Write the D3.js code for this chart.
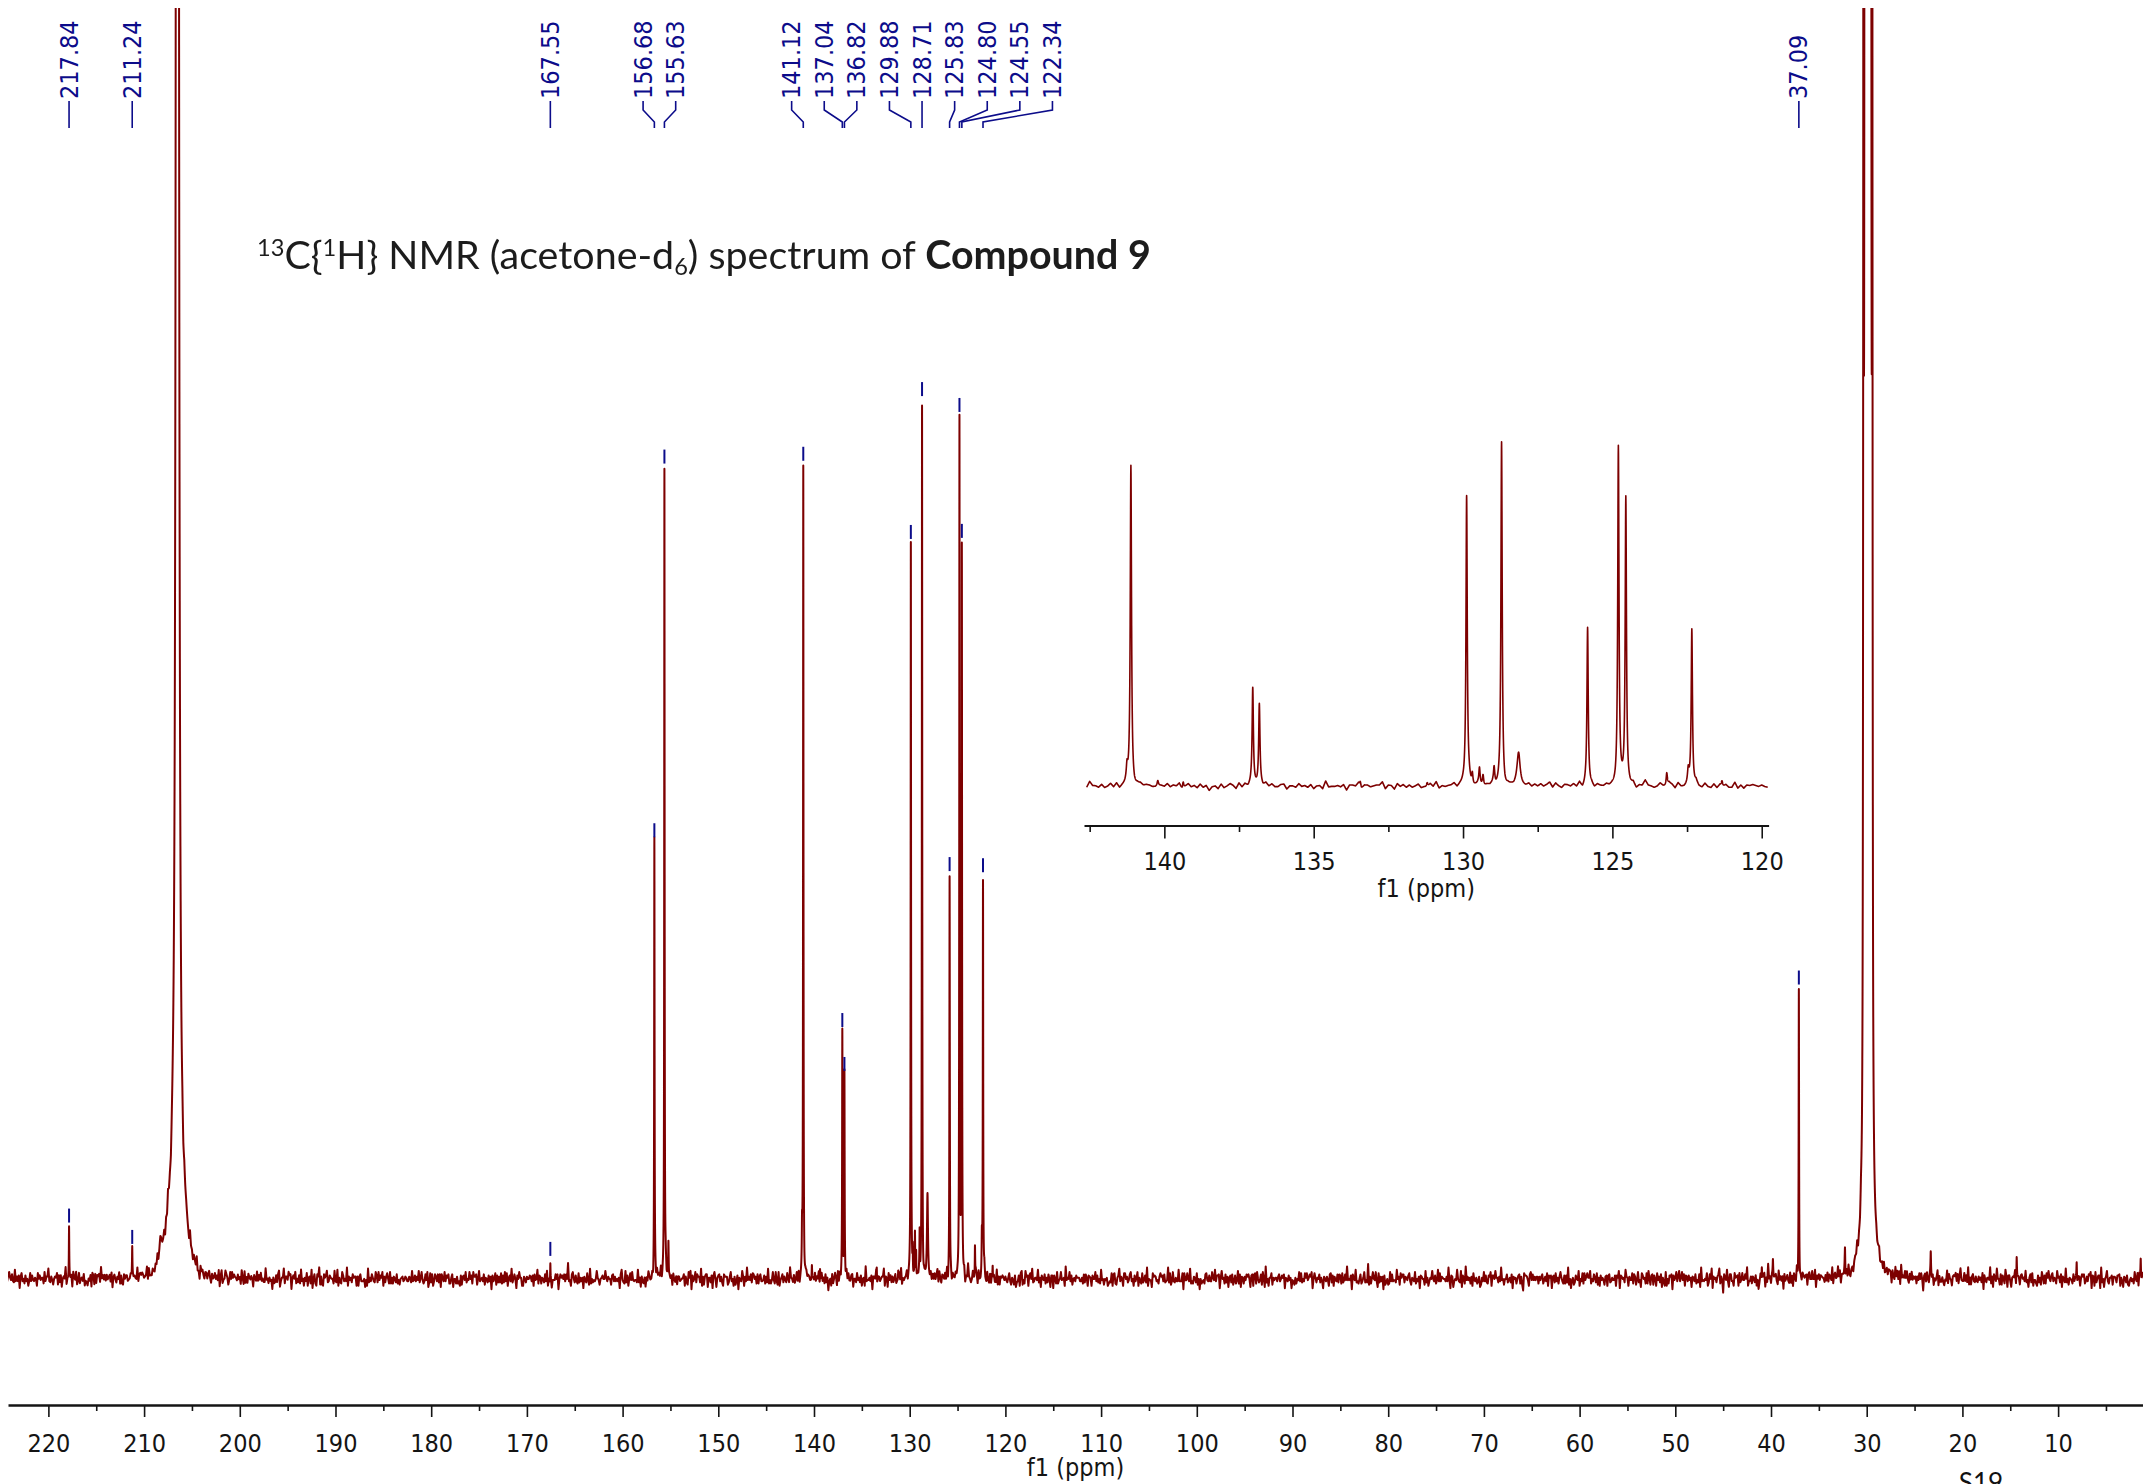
<!DOCTYPE html>
<html>
<head>
<meta charset="utf-8">
<script src="https://cdn.jsdelivr.net/npm/d3@7"></script>
<style>
  html, body { margin: 0; padding: 0; background: #ffffff; }
  svg { display: block; }
</style>
</head>
<body>
<svg id="chart" width="2143" height="1484"></svg>
<script>
// ---- Labelled 13C{1H} signals: shift (ppm) and peak height (% of full vertical scale)
const peakPpm    = [217.84, 211.24, 167.55, 156.68, 155.63, 141.12, 137.04, 136.82, 129.88, 128.71, 125.83, 124.80, 124.55, 122.34, 37.09];
const peakHeight = [4.1,    2.3,    1.5,    34.4,   63.8,   63.9,   19.3,   15.8,   57.8,   69.0,   31.7,   67.3,   57.3,   31.5,   22.8];
const peakHwhm   = 0.025;   // half width at half height, ppm

// ---- Small unlabelled signals
const minorPpm    = [208.30, 155.21, 141.25, 140.22, 139.37, 133.44, 131.20, 129.69, 129.45, 129.33, 128.96, 128.14, 123.18, 122.46, 121.33, 40.96, 39.80, 32.27, 23.31, 14.33, 8.06, 1.37];
const minorHeight = [1.4,    3.1,    3.0,    1.0,    1.3,    0.9,    0.9,    2.5,    3.3,    2.1,    3.2,    6.4,    2.6,    2.8,    1.0,    1.0,   1.0,   1.8,   1.6,   1.9,   1.4,  1.5];
const minorHwhm   = [0.25,   0.03,   0.03,   0.025,  0.025,  0.025,  0.025,  0.025,  0.025,  0.025,  0.025,  0.06,   0.025,  0.03,   0.025,  0.03,  0.03,  0.03,  0.03,  0.03,  0.03, 0.03];

// ---- Solvent (acetone-d6): carbonyl line with its broad foot, and the CD3 septet
const solventCoPpm = 206.52, solventCoHeight = 4800, solventCoHwhm = 0.025;
const solventFootPpm = 206.6, solventFootHeight = 5, solventFootSigma = 0.85;
const septetPpm    = [30.34, 30.19, 30.03, 29.88, 29.73, 29.57, 29.42];
const septetHeight = [110, 330, 660, 770, 660, 330, 110];
const septetHwhm   = 0.03;

// ---- Baseline noise samples (one per 0.1 ppm, in steps of 0.09 % of scale)
const noiseA = [2,-3,1,4,-1,-5,3,0,-2,6,-4,1,-1,3,-6,2,5,-2,0,-3,4,-1,2,-7,1,3,-2,5,-4,0,2,-1,-3,7,-2,1,-5,3,0,-1,4,-3,2,-2,6,-1,-4,1,3,-6,0,2,-3,5,-1,1,-2,4,-5,2,0,-3,9,-2,1,-4,3,-1,2,-6,4,0,-2,3,-3,1,5,-4,-1,2,-2,6,-5,1,0,-3,4,-1,3,-7,2,1,-2,5,-3,0,-1,3,-4,8,-2,1,-5,2,0,4,-3,-1,2,-2,5,-6,1,3,-1,-4,2,0,6,-3,1,-2,-8,3,1,-1,4,-2,-3,2,5,-1,0,-4,3,-2,1,6,-5,2,-1,-2,4,0,-3,3,-1,7,-4,1,-2,2,-5,3,0,-1,4,-3,2,-6,1,5,-2,0,-1,3,-4,2,-2,10,-3,1,-5,2,4,-1,-2,3,0,-4,5,-3,1,-1,2,-7,4,-2,0,3,-1,-3,6,-2,1,-4,2,0,-2,5,-3,1,-6,3,-1,2,0,-4,4];
const noiseB = [1,-2,3,0,-1,2,-3,1,0,-2,4,-1,1,-3,2,0,-1,3,-2,1,-4,2,0,1,-1,-2,3,-1,2,0,-3,1,2,-2,0,4,-1,-2,1,3,-3,0,1,-1,2,-4,1,0,3,-2,-1,2,1,-3,0,2,-1,-2,4,0,-1,1,-3,2,1,-2,0,3,-1,-1,2,-3,1,4,-2,0,-1,1,2,-3,0,1,-2,3,-1,0,2,-4,1,-1,3,0,-2,1,2,-1,-3];

// ---- Axis ticks
const mainTicks  = [220, 210, 200, 190, 180, 170, 160, 150, 140, 130, 120, 110, 100, 90, 80, 70, 60, 50, 40, 30, 20, 10];
const mainMinor  = [215, 205, 195, 185, 175, 165, 155, 145, 135, 125, 115, 105, 95, 85, 75, 65, 55, 45, 35, 25, 15, 5];
const insetTicks = [140, 135, 130, 125, 120];
const insetMinor = [142.5, 137.5, 132.5, 127.5, 122.5];

// ---------------------------------------------------------------------------
const svg = d3.select("#chart");
svg.append("rect").attr("width", 2143).attr("height", 1484).attr("fill", "#ffffff");

const defs = svg.append("defs");
defs.append("filter").attr("id", "soft")
  .append("feGaussianBlur").attr("stdDeviation", 0.45);
defs.append("clipPath").attr("id", "mainClip")
  .append("rect").attr("x", 8).attr("y", 8).attr("width", 2135).attr("height", 1380);
defs.append("clipPath").attr("id", "insetClip")
  .append("rect").attr("x", 1084).attr("y", 250).attr("width", 685).attr("height", 570);

const xMain = d3.scaleLinear().domain([224.22, 1.13]).range([8, 2143]);
const yMain = d3.scaleLinear().domain([0, 100]).range([1279, 7.9]);
const xIn   = d3.scaleLinear().domain([142.69, 119.77]).range([1084, 1768.6]);
const yIn   = d3.scaleLinear().domain([0, 100]).range([786, 285]);

const LINE = "#7d0000";
const BLUE = "#0c0c8a";
const INK  = "#141414";
const numFont = "'DejaVu Sans Condensed', Roboto, sans-serif";

// Lorentzian line list
const lines = [];
peakPpm.forEach((c, i) => lines.push({ c, h: peakHeight[i], g: peakHwhm }));
minorPpm.forEach((c, i) => lines.push({ c, h: minorHeight[i], g: minorHwhm[i] }));
septetPpm.forEach((c, i) => lines.push({ c, h: septetHeight[i], g: septetHwhm }));
lines.push({ c: solventCoPpm, h: solventCoHeight, g: solventCoHwhm });

function clean(p) {
  let s = 0;
  for (const l of lines) { const u = (p - l.c) / l.g; s += l.h / (1 + u * u); }
  const d = p - solventFootPpm;
  s += solventFootHeight * Math.exp(-d * d / (2 * solventFootSigma * solventFootSigma));
  return s;
}

const gridTop = 224.4, gridStep = 0.1;
function noiseAt(k) {
  const a = noiseA[((k % noiseA.length) + noiseA.length) % noiseA.length];
  const b = noiseB[(((k * 7) % noiseB.length) + noiseB.length) % noiseB.length];
  return (a + b) * 0.09;
}
function noise(p) {
  const t = (gridTop - p) / gridStep;
  const k0 = Math.floor(t), f = t - k0;
  return noiseAt(k0) * (1 - f) + noiseAt(k0 + 1) * f;
}

// sampling: regular grid plus dense points across each line
let pts = [];
const nCoarse = Math.round((gridTop - 0.9) / gridStep);
for (let k = 0; k <= nCoarse; k++) pts.push(gridTop - k * gridStep);
for (const l of lines) {
  const span = (l.h > 200 ? 70 : 25) * l.g;
  const fine = l.g / 6;
  for (let p = l.c - span; p <= l.c + span; p += fine) pts.push(p);
  pts.push(l.c);
}
pts.sort((a, b) => b - a);
pts = pts.filter((p, i) => i === 0 || Math.abs(p - pts[i - 1]) > 1e-6);
const spectrum = pts.map(p => ({ ppm: p, v: clean(p) + noise(p) }));

// ---- main spectrum
svg.append("path")
  .datum(spectrum)
  .attr("clip-path", "url(#mainClip)")
  .attr("fill", "none")
  .attr("stroke", LINE)
  .attr("stroke-width", 2)
  .attr("stroke-linejoin", "round")
  .attr("d", d3.line().x(d => xMain(d.ppm)).y(d => yMain(d.v)));

// ---- inset (expanded aromatic region)
const insetData = spectrum.filter(d => d.ppm <= 142.69 && d.ppm >= 119.77);
svg.append("path")
  .datum(insetData)
  .attr("clip-path", "url(#insetClip)")
  .attr("fill", "none")
  .attr("stroke", LINE)
  .attr("stroke-width", 1.6)
  .attr("stroke-linejoin", "round")
  .attr("d", d3.line().x(d => xIn(d.ppm)).y(d => yIn(d.v)));

// ---- axes
function styleAxis(g, width) {
  g.selectAll(".domain").attr("stroke", INK).attr("stroke-width", width);
  g.selectAll(".tick line").attr("stroke", INK).attr("stroke-width", 1.6);
  g.selectAll(".tick text").attr("fill", INK).attr("font-family", numFont).attr("font-size", 25);
}
const gMain = svg.append("g").attr("transform", "translate(0,1405)")
  .call(d3.axisBottom(xMain).tickValues(mainTicks).tickFormat(d3.format("d"))
    .tickSize(12).tickSizeOuter(0).tickPadding(17));
styleAxis(gMain, 2.4);
const gMainMinor = svg.append("g").attr("transform", "translate(0,1405)")
  .call(d3.axisBottom(xMain).tickValues(mainMinor).tickFormat("").tickSize(6).tickSizeOuter(0));
gMainMinor.select(".domain").remove();
styleAxis(gMainMinor, 2.4);

const gIn = svg.append("g").attr("transform", "translate(0,825.5)")
  .call(d3.axisBottom(xIn).tickValues(insetTicks).tickFormat(d3.format("d"))
    .tickSize(13).tickSizeOuter(0).tickPadding(14));
styleAxis(gIn, 2);
const gInMinor = svg.append("g").attr("transform", "translate(0,825.5)")
  .call(d3.axisBottom(xIn).tickValues(insetMinor).tickFormat("").tickSize(6.5).tickSizeOuter(0));
gInMinor.select(".domain").remove();
styleAxis(gInMinor, 2);

svg.append("text").attr("x", (xMain.range()[0] + xMain.range()[1]) / 2).attr("y", 1476)
  .attr("text-anchor", "middle").attr("font-family", numFont).attr("font-size", 25)
  .attr("fill", INK).text("f1 (ppm)");
svg.append("text").attr("x", (xIn.range()[0] + xIn.range()[1]) / 2).attr("y", 897)
  .attr("text-anchor", "middle").attr("font-family", numFont).attr("font-size", 25)
  .attr("fill", INK).text("f1 (ppm)");

// ---- peak markers above each labelled line
const gMark = svg.append("g");
peakPpm.forEach(p => {
  const yTop = yMain(clean(p));
  gMark.append("line")
    .attr("x1", xMain(p)).attr("x2", xMain(p))
    .attr("y1", yTop - 18).attr("y2", yTop - 4)
    .attr("stroke", BLUE).attr("stroke-width", 2);
});

// ---- peak labels along the top, spread so they do not collide
const labelGap = 32.6;
const order = d3.range(peakPpm.length).sort((a, b) => xMain(peakPpm[a]) - xMain(peakPpm[b]));
function place(c) {
  const xs = c.members.map(i => xMain(peakPpm[i])).sort((a, b) => a - b);
  const mid = d3.median(xs), n = c.members.length;
  c.pos = c.members.map((_, j) => mid + (j - (n - 1) / 2) * labelGap);
}
let clusters = order.map(i => ({ members: [i] }));
clusters.forEach(place);
let changed = true;
while (changed) {
  changed = false;
  for (let j = 0; j < clusters.length - 1; j++) {
    const a = clusters[j], b = clusters[j + 1];
    if (a.pos[a.pos.length - 1] + labelGap > b.pos[0] + 0.01) {
      a.members = a.members.concat(b.members);
      place(a);
      clusters.splice(j + 1, 1);
      changed = true;
      break;
    }
  }
}
const labelX = {};
clusters.forEach(c => c.members.forEach((i, j) => { labelX[i] = c.pos[j]; }));

const gLab = svg.append("g");
peakPpm.forEach((p, i) => {
  const lx = labelX[i], px = xMain(p);
  gLab.append("text")
    .attr("transform", `translate(${lx},99) rotate(-90)`)
    .attr("text-anchor", "start")
    .attr("dominant-baseline", "central")
    .attr("font-family", numFont).attr("font-size", 25)
    .attr("fill", BLUE)
    .text(p.toFixed(2));
  const d = Math.abs(lx - px) < 0.5
    ? `M${px},101V128`
    : `M${lx},101V110L${px},122V128`;
  gLab.append("path").attr("d", d).attr("fill", "none")
    .attr("stroke", BLUE).attr("stroke-width", 1.6);
});

// ---- title
function buildTitle(fs) {
  svg.select("#title").remove();
  const t = svg.append("text").attr("id", "title")
    .attr("x", 257).attr("y", 269)
    .attr("font-family", "Lato, 'Open Sans', sans-serif")
    .attr("font-size", fs).attr("fill", "#1c1c1c")
    .attr("filter", "url(#soft)");
  const sup = fs * 0.6, up = fs * 0.34, down = fs * 0.16;
  t.append("tspan").attr("font-size", sup).attr("dy", -up).text("13");
  t.append("tspan").attr("dy", up).text("C{");
  t.append("tspan").attr("font-size", sup).attr("dy", -up).text("1");
  t.append("tspan").attr("dy", up).text("H} NMR (acetone-d");
  t.append("tspan").attr("font-size", sup).attr("dy", down).text("6");
  t.append("tspan").attr("dy", -down).text(") spectrum of ");
  t.append("tspan").attr("font-weight", 700).text("Compound 9");
  return t;
}
let title = buildTitle(40);
const tw = title.node().getBBox().width;
title = buildTitle(40 * 894 / tw);

// ---- page number
svg.append("text").attr("x", 1981).attr("y", 1492).attr("text-anchor", "middle")
  .attr("font-family", "Lato, 'Open Sans', sans-serif").attr("font-size", 26)
  .attr("fill", "#111").text("S19");
</script>
</body>
</html>
